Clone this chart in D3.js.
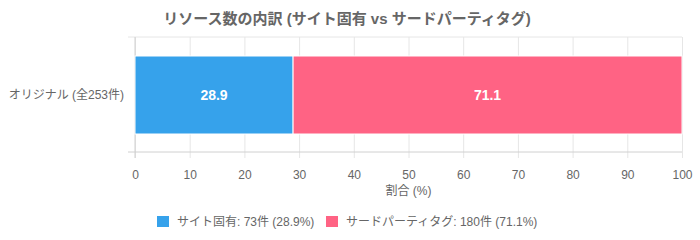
<!DOCTYPE html>
<html>
<head>
<meta charset="utf-8">
<script src="https://cdn.jsdelivr.net/npm/d3@7"></script>
<style>
  body { margin: 0; background: #fff; }
  svg text { font-family: "Liberation Sans", Arial, "Noto Sans CJK JP", sans-serif; fill: #666; }
</style>
</head>
<body>
<div id="chart"></div>
<script>
const categories = ["オリジナル (全253件)"]
const seriesNames = ["サイト固有", "サードパーティタグ"]
const seriesCounts = [73, 180]
const seriesPercents = [28.9, 71.1]
const seriesColors = ["#36A2EB", "#FF6384"]
const xTicks = [0, 10, 20, 30, 40, 50, 60, 70, 80, 90, 100]

let width = 700
let height = 240
let plotLeft = 135, plotRight = 682, plotTop = 37, plotBottom = 152

let svg = d3.select("#chart").append("svg")
  .attr("width", width)
  .attr("height", height)

let xScale = d3.scaleLinear().domain([0, 100]).range([plotLeft, plotRight])
let yScale = d3.scaleBand().domain(categories).range([plotTop, plotBottom])

// title
svg.append("text")
  .attr("x", 347)
  .attr("y", 24)
  .attr("text-anchor", "middle")
  .style("font-size", "15px")
  .style("font-weight", "bold")
  .text("リソース数の内訳 (サイト固有 vs サードパーティタグ)")

// grid
let xAxis = d3.axisBottom(xScale).tickValues(xTicks).tickSizeOuter(0).tickPadding(12)
let xG = svg.append("g")
  .attr("transform", "translate(0," + plotBottom + ")")
  .call(xAxis)
xG.select(".domain").remove()
xG.selectAll(".tick line").attr("stroke", "#e6e6e6").attr("y2", -(plotBottom - plotTop)).attr("y1", 6)
xG.selectAll(".tick text").style("font-size", "12px").attr("fill", "#666")

svg.append("line").attr("x1", plotLeft - 7).attr("x2", plotRight).attr("y1", plotTop).attr("y2", plotTop).attr("stroke", "#e6e6e6")
svg.append("line").attr("x1", plotLeft - 7).attr("x2", plotRight).attr("y1", plotBottom).attr("y2", plotBottom).attr("stroke", "#d0d0d0")
svg.append("line").attr("x1", plotLeft).attr("x2", plotLeft).attr("y1", plotTop).attr("y2", plotBottom + 6).attr("stroke", "#d0d0d0")

// y labels
svg.selectAll("text.cat")
  .data(categories)
  .enter()
  .append("text")
    .attr("class", "cat")
    .attr("x", plotLeft - 11)
    .attr("y", d => yScale(d) + yScale.bandwidth() / 2)
    .attr("dy", "0.35em")
    .attr("text-anchor", "end")
    .style("font-size", "12px")
    .text(d => d)

// stacked bars
let stack = []
let acc = 0
seriesPercents.forEach((p, i) => { stack.push({ start: acc, end: acc + p, value: p, color: seriesColors[i] }); acc += p })

let barTop = 56, barH = 78
svg.selectAll("rect.bar")
  .data(stack)
  .enter()
  .append("rect")
    .attr("class", "bar")
    .attr("x", d => xScale(d.start))
    .attr("width", d => xScale(d.end) - xScale(d.start))
    .attr("y", barTop)
    .attr("height", barH)
    .attr("fill", d => d.color)
    .attr("stroke", "#fff")
    .attr("stroke-width", 1)

svg.selectAll("text.val")
  .data(stack)
  .enter()
  .append("text")
    .attr("class", "val")
    .attr("x", d => (xScale(d.start) + xScale(d.end)) / 2)
    .attr("y", barTop + barH / 2)
    .attr("dy", "0.35em")
    .attr("text-anchor", "middle")
    .style("font-size", "14px")
    .style("font-weight", "bold")
    .style("fill", "#fff")
    .text(d => d.value.toFixed(1))

// x label
svg.append("text")
  .attr("x", (plotLeft + plotRight) / 2)
  .attr("y", 195)
  .attr("text-anchor", "middle")
  .style("font-size", "12px")
  .text("割合 (%)")

// legend
let legendX = [157, 326]
let legend = svg.selectAll("g.legend")
  .data(seriesNames)
  .enter()
  .append("g")
    .attr("class", "legend")
    .attr("transform", (d, i) => "translate(" + legendX[i] + ",216)")
legend.append("rect")
  .attr("width", 12).attr("height", 11)
  .attr("fill", (d, i) => seriesColors[i])
legend.append("text")
  .attr("x", 20)
  .attr("y", 6)
  .attr("dy", "0.35em")
  .style("font-size", "12px")
  .text((d, i) => d + ": " + seriesCounts[i] + "件 (" + seriesPercents[i] + "%)")
</script>
</body>
</html>
